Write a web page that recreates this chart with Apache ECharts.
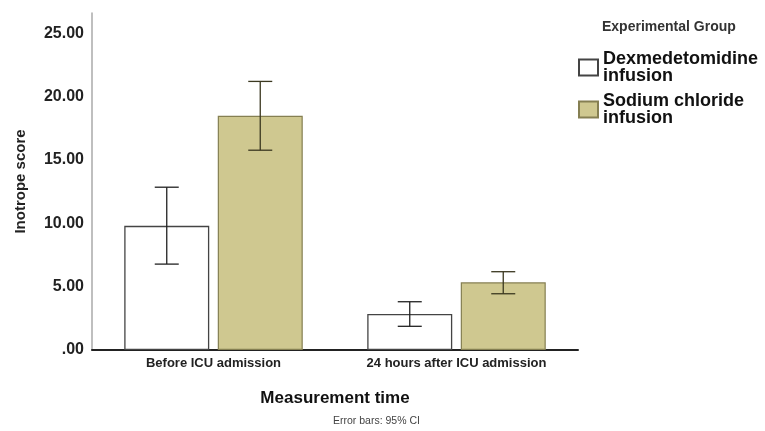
<!DOCTYPE html>
<html>
<head>
<meta charset="utf-8">
<script src="https://cdn.jsdelivr.net/npm/echarts@6/dist/echarts.min.js"></script>
<style>
  html, body { margin: 0; padding: 0; background: #fff; }
  #chart { width: 765px; height: 431px; }
</style>
</head>
<body>
<div id="chart"></div>
<script>
// data
var categories = ["Before ICU admission", "24 hours after ICU admission"];
var groupNames = ["Dexmedetomidine infusion", "Sodium chloride infusion"];

var dexMean = [9.8, 2.85];
var dexLow = [6.78, 1.87];
var dexHigh = [12.85, 3.81];

var naclMean = [18.48, 5.34];
var naclLow = [15.77, 4.44];
var naclHigh = [21.2, 6.18];

var yTicks = [0, 5, 10, 15, 20, 25];

// bar geometry (px), shared by bars and error bars
var BAR_W = 85;
var BAR_GAP = 0.1;
var HALF_SHIFT = (BAR_W + BAR_W * BAR_GAP) / 2;
var CAP = 12;

function ciData(low, high) {
  return low.map(function (l, i) { return [i, l, high[i]]; });
}

function errorBar(shift, color) {
  return function (params, api) {
    var lo = api.coord([api.value(0), api.value(1)]);
    var hi = api.coord([api.value(0), api.value(2)]);
    var x = lo[0] + shift;
    var st = { stroke: color, lineWidth: 1.3 };
    return {
      type: "group",
      children: [
        { type: "line", shape: { x1: x, y1: hi[1], x2: x, y2: lo[1] }, style: st },
        { type: "line", shape: { x1: x - CAP, y1: hi[1], x2: x + CAP, y2: hi[1] }, style: st },
        { type: "line", shape: { x1: x - CAP, y1: lo[1], x2: x + CAP, y2: lo[1] }, style: st }
      ]
    };
  };
}

var chart = echarts.init(document.getElementById("chart"));
var font = "'Liberation Sans', Arial, sans-serif";

chart.setOption({
  animation: false,
  textStyle: { fontFamily: font },
  grid: { left: 92, right: 187, top: 13, bottom: 81 },
  legend: {
    data: groupNames,
    orient: "vertical",
    left: 573,
    top: 45,
    itemWidth: 19,
    itemHeight: 16,
    itemGap: 7,
    icon: "rect",
    formatter: function (name) { return name.replace(/ (infusion)$/, "\n$1"); },
    textStyle: { fontSize: 18, fontWeight: "bold", color: "#111", lineHeight: 17 }
  },
  graphic: [
    {
      type: "text", left: 602, top: 20,
      style: { text: "Experimental Group", font: "600 14px " + font, fill: "#333" }
    },
    {
      type: "text", left: 333, top: 416,
      style: { text: "Error bars: 95% CI", font: "10.5px " + font, fill: "#444" }
    }
  ],
  xAxis: {
    type: "category",
    data: categories,
    name: "Measurement time",
    nameLocation: "middle",
    nameGap: 40,
    nameTextStyle: { fontSize: 17, fontWeight: "bold", color: "#111" },
    axisLine: { lineStyle: { color: "#222", width: 2 } },
    axisTick: { show: false },
    axisLabel: { fontSize: 13, fontWeight: "bold", color: "#222", margin: 7 }
  },
  yAxis: {
    type: "value",
    min: yTicks[0],
    max: 26.6,
    interval: yTicks[1] - yTicks[0],
    name: "Inotrope score",
    nameLocation: "middle",
    nameRotate: 90,
    nameGap: 64,
    nameTextStyle: { fontSize: 15, fontWeight: "bold", color: "#222" },
    axisLine: { show: true, lineStyle: { color: "#aaa", width: 1.5 } },
    axisTick: { show: false },
    splitLine: { show: false },
    axisLabel: {
      fontSize: 16, fontWeight: "bold", color: "#222", margin: 8,
      showMaxLabel: false,
      formatter: function (v) { return v === 0 ? ".00" : v.toFixed(2); }
    }
  },
  series: [
    {
      name: groupNames[0], type: "bar", data: dexMean,
      barWidth: BAR_W, barGap: BAR_GAP * 100 + "%",
      itemStyle: { color: "#fff", borderColor: "#444", borderWidth: 1.3 }
    },
    {
      name: groupNames[1], type: "bar", data: naclMean,
      barWidth: BAR_W,
      itemStyle: { color: "#cfc890", borderColor: "#857f52", borderWidth: 1.2 }
    },
    {
      type: "custom", data: ciData(dexLow, dexHigh),
      renderItem: errorBar(-HALF_SHIFT, "#222"), z: 5
    },
    {
      type: "custom", data: ciData(naclLow, naclHigh),
      renderItem: errorBar(HALF_SHIFT, "#3b3820"), z: 5
    }
  ]
});
</script>
</body>
</html>
